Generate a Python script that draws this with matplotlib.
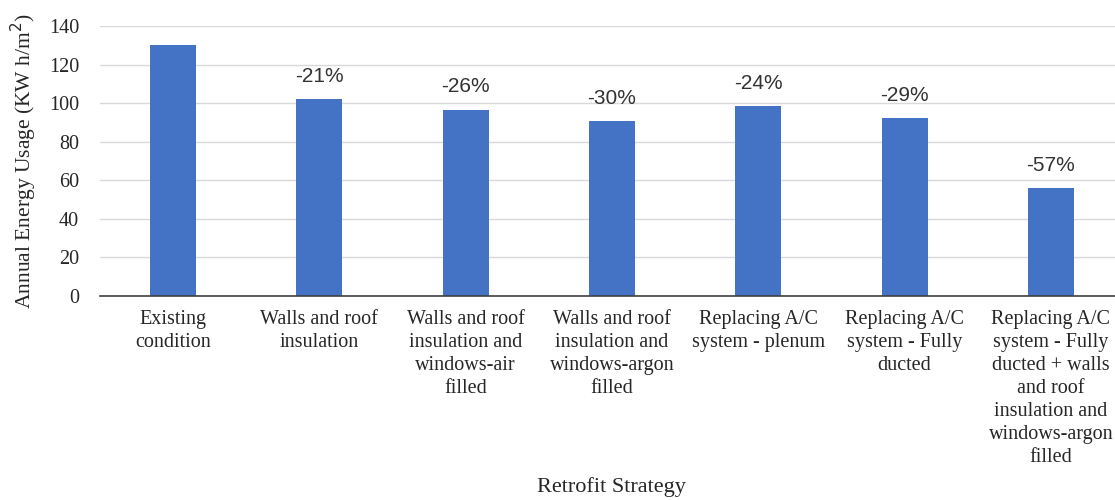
import numpy as np
import matplotlib
matplotlib.use("Agg")
import matplotlib.pyplot as plt

# data
strategies = [
    "Existing\ncondition",
    "Walls and roof\ninsulation",
    "Walls and roof\ninsulation and\nwindows-air\nfilled",
    "Walls and roof\ninsulation and\nwindows-argon\nfilled",
    "Replacing A/C\nsystem - plenum",
    "Replacing A/C\nsystem - Fully\nducted",
    "Replacing A/C\nsystem - Fully\nducted + walls\nand roof\ninsulation and\nwindows-argon\nfilled",
]
energy_usage = [130, 102, 96.5, 90.7, 98.5, 92.3, 56]
reduction_labels = ["", "-21%", "-26%", "-30%", "-24%", "-29%", "-57%"]
y_ticks = [0, 20, 40, 60, 80, 100, 120, 140]

serif = ["Liberation Serif", "DejaVu Serif"]
sans = ["Liberation Sans", "DejaVu Sans"]

fig = plt.figure(figsize=(11.15, 5), dpi=100)
ax = fig.add_axes([100 / 1115, 204 / 500, 1024 / 1115, 270 / 500])

x = np.arange(len(strategies))
bars = ax.bar(x, energy_usage, width=0.315, color="#4472C4", zorder=3)

# percentage labels above bars
for bar, lab in zip(bars, reduction_labels):
    if lab:
        ax.annotate(lab, (bar.get_x() + bar.get_width() / 2, bar.get_height()),
                    xytext=(0, 16.5), textcoords="offset points",
                    ha="center", va="center", fontsize=15,
                    family=sans, color="#333333")

ax.set_xlim(-0.5, len(strategies) - 0.5)
ax.set_ylim(0, 140)
ax.set_yticks(y_ticks)
ax.set_yticklabels([str(t) for t in y_ticks], family=serif, fontsize=14.5, color="#262626")
ax.set_xticks(x)
ax.set_xticklabels(strategies, family=serif, fontsize=14.5, color="#262626",
                   linespacing=1.29, va="top")

ax.tick_params(axis="y", length=0, pad=15)
ax.tick_params(axis="x", length=0, pad=10)
ax.grid(axis="y", color="#d9d9d9", linewidth=1, zorder=0)

for side in ["top", "right", "left"]:
    ax.spines[side].set_visible(False)
ax.spines["bottom"].set_color("#404040")
ax.spines["bottom"].set_linewidth(1.2)
ax.spines["bottom"].set_zorder(4)

ax.set_ylabel("Annual Energy Usage (KW h/m$^2$)", family=serif, fontsize=15.5,
              color="#262626", labelpad=7)
fig.text(611 / 1115, 1 - 487 / 500, "Retrofit Strategy", family=serif, fontsize=16,
         color="#262626", ha="center", va="center")

fig.savefig("out.png", dpi=100)
